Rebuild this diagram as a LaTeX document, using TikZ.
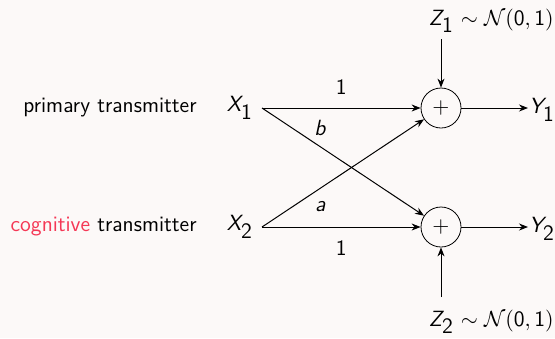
\documentclass[tikz,border=0pt]{standalone}
\usetikzlibrary{arrows.meta}
\renewcommand{\familydefault}{\sfdefault}
\definecolor{bgc}{RGB}{252,249,248}
\definecolor{cogred}{RGB}{245,55,85}
\newcommand{\sv}[2]{$\textit{#1}_{\textsf{#2}}$}
\begin{document}
\begin{tikzpicture}[x=0.5pt,y=-0.5pt,
  every node/.style={font=\sffamily\fontsize{11}{13}\selectfont},
  sumnode/.style={draw,circle,minimum size=20pt,inner sep=0pt},
  lbl/.style={inner sep=1pt},
  arr/.style={-{Stealth[length=4.5pt,width=3.5pt]},line width=0.5pt},
  plain/.style={line width=0.5pt}]
\fill[bgc] (0,0) rectangle (555,338);
\useasboundingbox (0,0) rectangle (555,338);
\node[anchor=east,inner sep=0pt] (pt) at (197,108) {primary transmitter};
\node[anchor=east,inner sep=0pt] (ct) at (197,227) {\textcolor{cogred}{cognitive} transmitter};
\node[lbl] (x1) at (240,108) {\sv{X}{1}};
\node[lbl] (x2) at (240,227) {\sv{X}{2}};
\coordinate (x1o) at (262,108);
\coordinate (x2o) at (262,227);
\node[sumnode] (s1) at (441,108) {$+$};
\node[sumnode] (s2) at (441,227) {$+$};
\node[lbl] (y1) at (542,110) {\sv{Y}{1}};
\node[lbl] (y2) at (542,229) {\sv{Y}{2}};
\coordinate (y1i) at (528,108);
\coordinate (y2i) at (528,227);
\node[anchor=east,inner sep=0pt] (z1) at (554,21) {\sv{Z}{1} $\sim\mathcal{N}(\textsf{0},\textsf{1})$};
\node[anchor=east,inner sep=0pt] (z2) at (554,322) {\sv{Z}{2} $\sim\mathcal{N}(\textsf{0},\textsf{1})$};
\coordinate (z1o) at (441,39);
\coordinate (z2o) at (441,297);
\draw[arr] (x1o) -- node[above=3pt] {\textsf{1}} (s1);
\draw[arr] (x2o) -- node[below=3pt] {\textsf{1}} (s2);
\draw[arr] (x1o) -- node[pos=0.36,above=2pt] {\textit{b}} (s2);
\draw[arr] (x2o) -- node[pos=0.36,below=3pt] {\textit{a}} (s1);
\draw[arr] (s1) -- (y1i);
\draw[arr] (s2) -- (y2i);
\draw[arr] (z1o) -- (s1);
\draw[arr] (z2o) -- (s2);
\end{tikzpicture}
\end{document}
